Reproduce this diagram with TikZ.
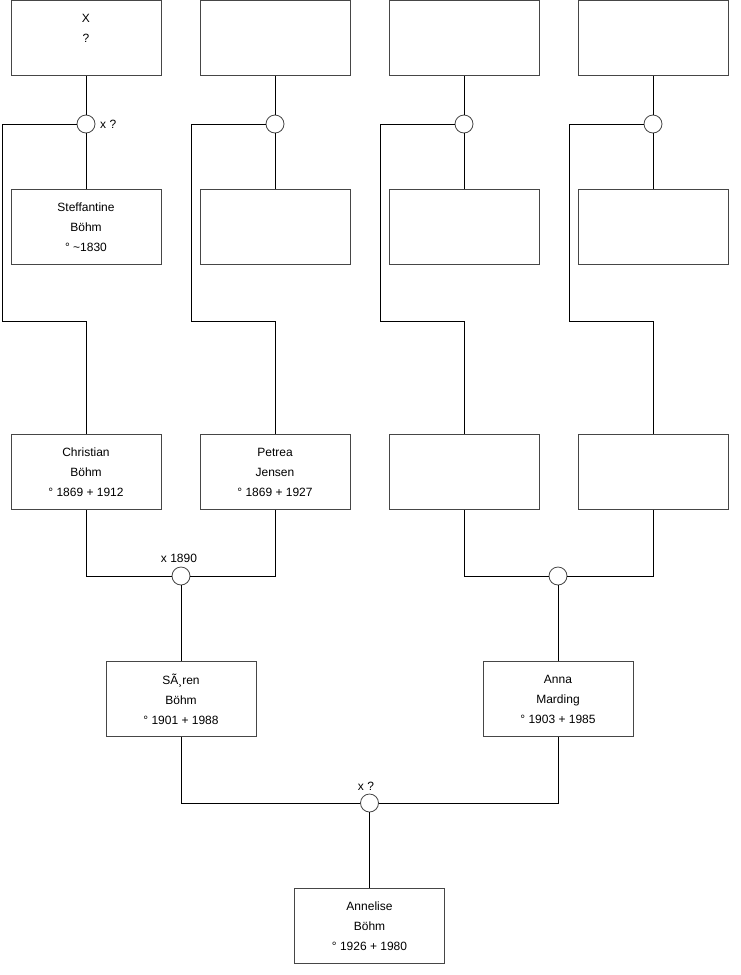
\documentclass[tikz,border=0pt]{standalone}
\usepackage{fontspec}
\setmainfont{Liberation Sans}
\definecolor{boxgray}{RGB}{70,70,70}
\begin{document}
\begin{tikzpicture}[x=1pt,y=-1pt,
  person/.style={draw=boxgray, line width=1pt, fill=white, minimum width=150pt, minimum height=75pt, inner sep=0pt, align=center, font=\fontsize{12}{20}\selectfont},
  marr/.style={circle, draw=boxgray, line width=0.8pt, minimum size=18pt, inner sep=0pt, fill=white},
  link/.style={line width=1pt, black},
  lbl/.style={font=\fontsize{12}{14}\selectfont, inner sep=0pt}]
\useasboundingbox (0,0) rectangle (740,975);
% top row
\node[person] (t1) at (86,38) {X\\?\\\mbox{}};
\node[person] (t2) at (275,38) {};
\node[person] (t3) at (464,38) {};
\node[person] (t4) at (653,38) {};
% marriage circles top
\node[marr] (c1) at (86,124) {};
\node[marr] (c2) at (275,124) {};
\node[marr] (c3) at (464,124) {};
\node[marr] (c4) at (653,124) {};
% second row
\node[person] (s1) at (86,227) {Steffantine\\Böhm\\° \textasciitilde1830};
\node[person] (s2) at (275,227) {};
\node[person] (s3) at (464,227) {};
\node[person] (s4) at (653,227) {};
% third row
\node[person] (p1) at (86,472) {Christian\\Böhm\\° 1869 + 1912};
\node[person] (p2) at (275,472) {Petrea\\Jensen\\° 1869 + 1927};
\node[person] (p3) at (464,472) {};
\node[person] (p4) at (653,472) {};
% marriages
\node[marr] (m1) at (181,576) {};
\node[marr] (m2) at (558,576) {};
% fourth row
\node[person] (g1) at (181,699) {SÃ¸ren\\Böhm\\° 1901 + 1988};
\node[person] (g2) at (558,699) {Anna\\Marding\\° 1903 + 1985};
\node[marr] (m3) at (369.5,803) {};
\node[person] (a) at (369.5,926) {Annelise\\Böhm\\° 1926 + 1980};
% bend coordinates
\coordinate (k1) at (2,321);
\coordinate (k2) at (191,321);
\coordinate (k3) at (380,321);
\coordinate (k4) at (569,321);
% connectors top
\foreach \i in {1,2,3,4}{
  \draw[link] (t\i.south) -- (c\i.north);
  \draw[link] (c\i.south) -- (s\i.north);
  \draw[link] (c\i.west) -| (k\i) -| (p\i.north);
}
\draw[link] (p1.south) |- (m1.west);
\draw[link] (p2.south) |- (m1.east);
\draw[link] (m1.south) -- (g1.north);
\draw[link] (p3.south) |- (m2.west);
\draw[link] (p4.south) |- (m2.east);
\draw[link] (m2.south) -- (g2.north);
\draw[link] (g1.south) |- (m3.west);
\draw[link] (g2.south) |- (m3.east);
\draw[link] (m3.south) -- (a.north);
% labels
\node[lbl, anchor=west] (l1) at (100,124) {x ?};
\node[lbl] (l2) at (179,558) {x 1890};
\node[lbl] (l3) at (366,786) {x ?};
\end{tikzpicture}
\end{document}
